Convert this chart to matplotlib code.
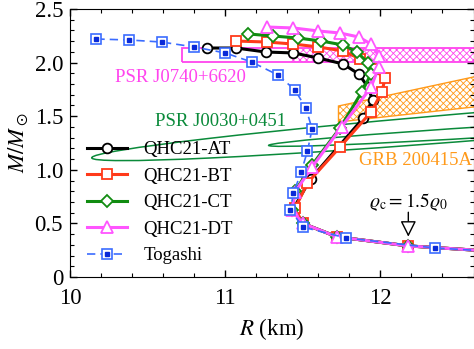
import numpy as np
import matplotlib
matplotlib.use("Agg")
import matplotlib.pyplot as plt
from matplotlib.patches import Rectangle, Polygon, Ellipse
from matplotlib.transforms import Affine2D
from matplotlib.legend_handler import HandlerTuple
from matplotlib.ticker import MultipleLocator

plt.rcParams.update({
    "font.family": "Liberation Serif",
    "mathtext.fontset": "stix",
    "font.size": 16,
    "hatch.linewidth": 0.6,
})

# --- M-R curves (R in km, M in solar masses) -------------------------------
AT_R = [10.88, 11.07, 11.26, 11.44, 11.60, 11.76, 11.86, 11.92, 11.95, 11.89,
        11.55, 11.44, 11.50, 11.72, 12.18, 13.00]
AT_M = [2.136, 2.136, 2.099, 2.090, 2.043, 1.987, 1.894, 1.772, 1.651, 1.483,
        0.914, 0.640, 0.500, 0.375, 0.290, 0.215]

BT_R = [11.07, 11.27, 11.44, 11.60, 11.76, 11.87, 11.95, 12.03, 12.01, 11.94,
        11.74, 11.53, 11.45, 11.50, 11.72, 12.18, 13.00]
BT_M = [2.201, 2.192, 2.173, 2.146, 2.108, 2.034, 1.940, 1.856, 1.726, 1.539,
        1.213, 0.877, 0.640, 0.500, 0.375, 0.290, 0.215]

CT_R = [11.15, 11.31, 11.47, 11.62, 11.76, 11.85, 11.92, 11.94, 11.88, 11.74,
        11.56, 11.45, 11.43, 11.50, 11.72, 12.18, 13.00]
CT_M = [2.267, 2.248, 2.229, 2.201, 2.164, 2.099, 1.996, 1.894, 1.726, 1.390,
        1.045, 0.802, 0.625, 0.500, 0.375, 0.290, 0.215]

DT_R = [11.27, 11.44, 11.60, 11.74, 11.86, 11.94, 11.99, 11.99, 11.94, 11.75,
        11.56, 11.45, 11.43, 11.50, 11.72, 12.18, 13.00]
DT_M = [2.332, 2.323, 2.295, 2.276, 2.239, 2.173, 2.062, 1.959, 1.772, 1.399,
        1.026, 0.793, 0.625, 0.500, 0.375, 0.290, 0.215]

TOG_R = [10.17, 10.38, 10.59, 10.80, 11.00, 11.17, 11.34, 11.45, 11.52, 11.56,
         11.53, 11.49, 11.44, 11.42, 11.50, 11.78, 12.35, 12.95]
TOG_M = [2.220, 2.211, 2.192, 2.146, 2.090, 2.006, 1.884, 1.744, 1.576, 1.381,
         1.175, 0.979, 0.784, 0.625, 0.466, 0.364, 0.271, 0.220]

# --- observational constraints ---------------------------------------------
J0740_M = (2.006, 2.139)
J0740_R_OUTLINE = (10.72, 13.5)
J0740_R_HATCH = (11.41, 13.5)

GRB_R = [11.73, 11.73, 12.70, 12.70]
GRB_M = [1.446, 1.595, 1.897, 1.602]

# PSR J0030+0451 contours: centre (R, M), semi-axis along R, slope, half-width in M
J0030_CENTER = [(12.75, 1.42), (12.75, 1.36)]
J0030_A = [2.61, 1.47]
J0030_SLOPE = [0.118, 0.09]
J0030_B = [0.13, 0.05]

# central-density marker
RHO_R, RHO_M = 12.18, 0.290

C_AT = "black"
C_BT = "#ff3a1a"
C_CT = "#118c11"
C_DT = "#ff55ff"
C_TOG = "#3b6cff"
C_TOG_IN = "#0a2ad8"
C_GRB = "#ff9a1a"
C_J0740 = "#ff44ee"
C_J0030 = "#0a8a3a"

fig = plt.figure(figsize=(4.74, 3.49), dpi=100)
ax = fig.add_axes([70 / 474, 1 - 277 / 349, 403.5 / 474, 268 / 349])

# constraint regions
ax.add_patch(Rectangle((J0740_R_OUTLINE[0], J0740_M[0]),
                       J0740_R_OUTLINE[1] - J0740_R_OUTLINE[0], J0740_M[1] - J0740_M[0],
                       fill=False, edgecolor=C_J0740, lw=1.3, zorder=1))
ax.add_patch(Rectangle((J0740_R_HATCH[0], J0740_M[0]),
                       J0740_R_HATCH[1] - J0740_R_HATCH[0], J0740_M[1] - J0740_M[0],
                       fill=False, edgecolor=C_J0740, hatch="xxxxx", lw=0, zorder=1))
ax.add_patch(Polygon(np.column_stack([GRB_R, GRB_M]), closed=True, fill=False,
                     edgecolor=C_GRB, hatch="xxxxx", lw=1.0, zorder=1))

for (rc, mc), a, s, b in zip(J0030_CENTER, J0030_A, J0030_SLOPE, J0030_B):
    tr = Affine2D(np.array([[a, 0, rc], [s * a, b, mc], [0, 0, 1]])) + ax.transData
    ax.add_patch(Ellipse((0, 0), 2, 2, transform=tr, fill=False,
                         edgecolor=C_J0030, lw=1.1, zorder=1))

# M-R curves
mk = dict(mfc="white", mew=1.3)
h_at, = ax.plot(AT_R, AT_M, "-o", color=C_AT, lw=2.2, ms=7, zorder=3, **mk)
h_bt, = ax.plot(BT_R, BT_M, "-s", color=C_BT, lw=2.2, ms=7, zorder=3, **mk)
h_ct, = ax.plot(CT_R, CT_M, "-D", color=C_CT, lw=2.2, ms=6, zorder=3, **mk)
h_dt, = ax.plot(DT_R, DT_M, "-^", color=C_DT, lw=2.2, ms=8, zorder=3, **mk)
h_tog, = ax.plot(TOG_R, TOG_M, "--s", color=C_TOG, lw=1.2, ms=7.5, mfc="white",
                 mec=C_TOG, mew=1.2, dashes=(5, 3), zorder=4)
h_tog_in, = ax.plot(TOG_R, TOG_M, "s", color=C_TOG_IN, ms=3.2, lw=0, zorder=5)

ax.legend([h_at, h_bt, h_ct, h_dt, (h_tog, h_tog_in)],
          ["QHC21-AT", "QHC21-BT", "QHC21-CT", "QHC21-DT", "Togashi"],
          handler_map={tuple: HandlerTuple(ndivide=1, pad=0)},
          loc="lower left", bbox_to_anchor=(0.015, 0.005), frameon=False,
          fontsize=13.5, handlelength=2.1, labelspacing=0.5, handletextpad=0.9,
          borderaxespad=0.2)

# labels
ax.text(10.29, 1.86, "PSR J0740+6620", color=C_J0740, fontsize=13.5, va="center")
ax.text(10.55, 1.45, "PSR J0030+0451", color=C_J0030, fontsize=13.5, va="center")
ax.text(11.86, 1.09, "GRB 200415A", color=C_GRB, fontsize=13.5, va="center")
ax.text(RHO_R, 0.70, r"$\varrho_{\rm c} = 1.5\varrho_0$", fontsize=14,
        ha="center", va="center")
ax.annotate("", xy=(RHO_R, RHO_M + 0.06), xytext=(RHO_R, 0.63),
            arrowprops=dict(arrowstyle="-|>,head_length=0.6,head_width=0.3",
                            fc="white", ec="black", lw=1.0), zorder=6)

ax.set_xlim(10, 12.6)
ax.set_ylim(0, 2.5)
ax.xaxis.set_major_locator(MultipleLocator(1))
ax.xaxis.set_minor_locator(MultipleLocator(0.2))
ax.yaxis.set_minor_locator(MultipleLocator(0.1))
ax.set_yticks([0, 0.5, 1.0, 1.5, 2.0, 2.5])
ax.set_yticklabels(["0", "0.5", "1.0", "1.5", "2.0", "2.5"])
ax.tick_params(which="both", direction="in", top=True, right=True, labelsize=16.5)
ax.tick_params(axis="x", which="major", pad=8)
ax.tick_params(axis="y", which="major", pad=5)
ax.tick_params(which="major", length=5, width=1.0)
ax.tick_params(which="minor", length=3, width=0.8)
ax.set_xlabel(r"$R$ (km)", fontsize=16.5, labelpad=5)
ax.set_ylabel(r"$M/M_\odot$", fontsize=16.5, labelpad=3)

fig.savefig("out.png", dpi=100)
